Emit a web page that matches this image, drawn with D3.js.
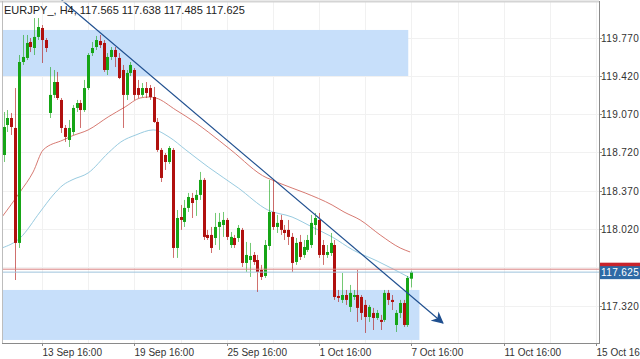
<!DOCTYPE html>
<html><head><meta charset="utf-8">
<script src="https://cdn.jsdelivr.net/npm/d3@7/dist/d3.min.js"></script>
<style>
html,body{margin:0;padding:0;background:#fff;overflow:hidden}
svg{display:block;font-family:"Liberation Sans",Arial,sans-serif}
</style></head><body>
<svg id="chart" width="640" height="359"></svg>
<script>
// ---------- data ----------
const chartTitle = "EURJPY_, H4, 117.565 117.638 117.485 117.625";
const firstBar = -10; // bar index of the first candle (13 Sep 16:00 = 0)
const opens = [118.696,118.970,119.034,118.943,117.892,119.546,119.583,119.729,119.674,119.775,
119.857,119.747,119.080,119.245,119.363,119.199,118.943,118.833,118.906,119.126,
119.171,119.107,119.308,119.628,119.683,119.738,119.720,119.473,119.592,119.656,
119.583,119.473,119.245,119.446,119.473,119.308,119.245,119.308,119.308,119.226,
118.998,118.742,118.696,118.632,118.742,117.846,118.129,118.084,118.212,118.303,
118.285,118.331,118.468,117.965,117.965,117.937,118.038,118.056,118.102,117.873,
117.937,117.937,118.011,117.709,117.736,117.782,117.736,117.645,117.590,117.864,
118.175,118.038,118.102,118.011,118.011,117.947,117.718,117.901,117.782,117.828,
117.873,118.056,118.102,117.873,117.782,117.800,117.873,117.407,117.371,117.416,
117.307,117.398,117.416,117.398,117.325,117.215,117.252,117.206,117.188,117.188,
117.435,117.371,117.142,117.252,117.343,117.142,117.565];
const highs = [119.089,119.107,119.080,119.308,119.610,119.793,119.793,119.765,119.948,119.948,
119.884,119.765,119.500,119.473,119.455,119.217,118.970,119.016,119.153,119.199,
119.199,119.382,119.628,119.729,119.784,119.793,119.747,119.628,119.683,119.683,
119.628,119.519,119.473,119.546,119.491,119.382,119.354,119.363,119.336,119.318,
119.034,118.760,118.714,118.778,118.760,118.193,118.239,118.285,118.349,118.349,
118.376,118.541,118.486,118.011,118.038,118.166,118.166,118.175,118.120,117.992,
117.965,118.056,118.029,117.901,117.892,117.809,117.782,117.691,117.919,118.468,
118.468,118.148,118.148,118.056,118.102,117.983,117.937,117.965,117.919,117.965,
118.148,118.166,118.166,117.919,117.873,117.983,117.919,117.462,117.617,117.462,
117.508,117.462,117.645,117.416,117.371,117.325,117.298,117.279,117.234,117.462,
117.462,117.416,117.279,117.371,117.371,117.590,117.638];
const lows = [118.632,118.906,118.879,117.553,117.846,119.519,119.564,119.637,119.610,119.747,
119.537,119.637,119.034,119.217,119.199,118.897,118.815,118.769,118.879,119.089,
118.943,119.089,119.290,119.601,119.656,119.674,119.455,119.427,119.564,119.500,
119.390,118.943,119.199,119.418,119.199,119.217,119.226,119.217,119.199,118.989,
118.724,118.449,118.559,118.614,117.755,117.755,118.011,118.038,118.175,118.120,
118.139,118.285,117.919,117.919,117.800,117.873,117.828,117.947,117.919,117.846,
117.846,117.901,117.672,117.627,117.581,117.691,117.444,117.553,117.572,117.828,
118.011,117.983,117.965,117.919,117.873,117.627,117.691,117.736,117.755,117.809,
117.846,117.965,117.755,117.691,117.755,117.773,117.371,117.352,117.343,117.325,
117.261,117.371,117.170,117.188,117.069,117.170,117.096,117.188,117.096,117.170,
117.325,117.279,117.078,117.206,117.124,117.124,117.485];
const closes = [118.952,119.034,118.952,117.892,119.546,119.592,119.720,119.683,119.775,119.866,
119.747,119.674,119.245,119.363,119.217,118.943,118.861,118.943,119.126,119.171,
119.107,119.308,119.610,119.674,119.747,119.701,119.473,119.592,119.656,119.592,
119.400,119.245,119.446,119.519,119.245,119.245,119.308,119.263,119.226,118.998,
118.742,118.486,118.632,118.760,117.846,118.120,118.102,118.212,118.312,118.257,
118.331,118.468,117.947,117.937,117.846,118.038,118.084,118.102,117.947,117.947,
117.873,118.029,117.709,117.782,117.773,117.718,117.627,117.581,117.873,118.175,
118.038,118.075,118.011,117.983,117.947,117.709,117.892,117.764,117.855,117.919,
118.075,118.120,117.782,117.782,117.809,117.892,117.398,117.389,117.416,117.371,
117.435,117.416,117.298,117.252,117.215,117.307,117.206,117.252,117.170,117.435,
117.371,117.352,117.252,117.343,117.142,117.572,117.625];

// moving averages (bar index, price)
const maRedIdx = [-10.4,-5.7,-2.3,0.3,5.5,7.8,12.0,17.2,21.6,25.5,27.8,29.6,34.8,40.0,43.2,49.1,58.5,59.8,61.6,68.4,75.4,78.5,82.7,87.9,93.1,95.7];
const maRedVal = [118.129,118.358,118.541,118.742,118.833,118.870,118.925,119.044,119.135,119.217,119.226,119.217,119.107,118.989,118.906,118.742,118.486,118.468,118.440,118.349,118.239,118.175,118.102,117.965,117.846,117.809];
const maBlueIdx = [-10.4,-5.7,-0.5,2.9,5.5,7.8,12.0,17.2,20.5,24.4,28.9,33.0,37.4,43.2,51.0,58.7,65.0,70.2,75.4,80.8,87.1,95.7];
const maBlueVal = [117.846,117.937,118.175,118.330,118.422,118.468,118.532,118.714,118.815,118.879,118.925,118.861,118.742,118.586,118.395,118.193,118.129,118.038,117.947,117.828,117.727,117.572];

// trend line (bar index, price)
const trendIdx = [5.1, 104.2];
const trendVal = [120.113, 117.160];

// zones
const zoneUpper = {idx:[-11, 95.2], price:[119.839, 119.418]};
const zoneLower = {idx:[-11, 98.1], price:[117.462, 117.005]};

// horizontal price lines
const askPrice = 117.652;
const bidPrice = 117.625;

// axes
const yTicks = [119.770, 119.420, 119.070, 118.720, 118.370, 118.020, 117.320];
const yGrid = [119.770, 119.420, 119.070, 118.720, 118.370, 118.020, 117.670, 117.320];
const xTickIdx = [0, 24, 48, 72, 96, 120, 144];
const xTickLabels = ["13 Sep 16:00","19 Sep 16:00","25 Sep 16:00","1 Oct 16:00","7 Oct 16:00","11 Oct 16:00","15 Oct 16:00"];
const xGridIdx = [-12,0,12,24,36,48,60,72,84,96,108,120,132,144];

// ---------- drawing ----------
const plot = {left:2, right:599, top:2, bottom:343};
const svg = d3.select("#chart");
const x = d3.scaleLinear().domain([0,144]).range([42,596]);
const y = d3.scaleLinear().domain([117.320,119.770]).range([305.5,37.5]);

const defs = svg.append("defs");
defs.append("clipPath").attr("id","clip")
  .append("rect").attr("x",plot.left).attr("y",0).attr("width",plot.right-plot.left).attr("height",plot.bottom);
defs.append("marker").attr("id","arrow").attr("viewBox","0 0 10 10").attr("refX",9).attr("refY",5)
  .attr("markerWidth",12).attr("markerHeight",12).attr("markerUnits","userSpaceOnUse").attr("orient","auto")
  .append("path").attr("d","M0,0 L10,5 L0,10 L3,5 Z").attr("fill","#1f4f8f");

// grid
const g = svg.append("g");
g.selectAll(".vg").data(xGridIdx).enter().append("line")
  .attr("x1",d=>Math.round(x(d))+0.5).attr("x2",d=>Math.round(x(d))+0.5)
  .attr("y1",plot.top).attr("y2",plot.bottom).attr("stroke","#f1f1f1");
g.selectAll(".hg").data(yGrid).enter().append("line")
  .attr("x1",plot.left).attr("x2",plot.right)
  .attr("y1",d=>Math.round(y(d))+0.5).attr("y2",d=>Math.round(y(d))+0.5).attr("stroke","#f1f1f1");

const pg = svg.append("g").attr("clip-path","url(#clip)");
// zones
[zoneUpper, zoneLower].forEach(z=>{
  pg.append("rect").attr("x",x(z.idx[0])).attr("width",x(z.idx[1])-x(z.idx[0]))
    .attr("y",y(z.price[0])).attr("height",y(z.price[1])-y(z.price[0])).attr("fill","#c7dffa");
});

// horizontal price lines
svg.append("line").attr("x1",plot.left).attr("x2",640).attr("y1",y(askPrice)).attr("y2",y(askPrice))
  .attr("stroke","#d98080").attr("stroke-width",1);
svg.append("line").attr("x1",plot.left).attr("x2",plot.right).attr("y1",y(bidPrice)).attr("y2",y(bidPrice))
  .attr("stroke","#9fc3dc").attr("stroke-width",1);

// moving averages
const line = d3.line().curve(d3.curveMonotoneX);
pg.append("path").attr("d",line(maRedIdx.map((d,i)=>[x(d),y(maRedVal[i])])))
  .attr("fill","none").attr("stroke","#d77a72").attr("stroke-width",1);
pg.append("path").attr("d",line(maBlueIdx.map((d,i)=>[x(d),y(maBlueVal[i])])))
  .attr("fill","none").attr("stroke","#98cbe0").attr("stroke-width",1);

// candles
const bars = opens.map((o,i)=>({k:firstBar+i,o,h:highs[i],l:lows[i],c:closes[i]}));
const cg = pg.append("g");
const up="#16a516", dn="#b0100e";
bars.forEach(b=>{
  const cx = Math.round(x(b.k));
  const col = b.c>=b.o?up:dn;
  cg.append("line").attr("x1",cx+0.5).attr("x2",cx+0.5).attr("y1",y(b.h)).attr("y2",y(b.l))
    .attr("stroke",col).attr("stroke-opacity",0.6).attr("stroke-width",1);
  const top = y(Math.max(b.o,b.c)), bot = y(Math.min(b.o,b.c));
  cg.append("rect").attr("x",cx-1).attr("width",3).attr("y",top).attr("height",Math.max(1.5,bot-top)).attr("fill",col);
});

// trend line
svg.append("line").attr("x1",x(trendIdx[0])).attr("y1",y(trendVal[0]))
  .attr("x2",x(trendIdx[1])).attr("y2",y(trendVal[1]))
  .attr("stroke","#1f4f8f").attr("stroke-width",1.2).attr("marker-end","url(#arrow)");

// frame
svg.append("line").attr("x1",0).attr("x2",plot.right).attr("y1",1.5).attr("y2",1.5).attr("stroke","#d4d4d4").attr("stroke-width",2);
svg.append("line").attr("x1",plot.left+0.5).attr("x2",plot.left+0.5).attr("y1",1).attr("y2",plot.bottom).attr("stroke","#bdbdbd");
svg.append("line").attr("x1",plot.right+0.5).attr("x2",plot.right+0.5).attr("y1",1).attr("y2",plot.bottom).attr("stroke","#8a8a8a");
svg.append("line").attr("x1",plot.left).attr("x2",plot.right+1).attr("y1",plot.bottom+0.5).attr("y2",plot.bottom+0.5).attr("stroke","#8a8a8a");

// y axis
const ya = svg.append("g").attr("font-size",10).attr("fill","#333").attr("letter-spacing","0.4px");
yTicks.forEach(t=>{
  const yy = Math.round(y(t))+0.5;
  ya.append("line").attr("x1",plot.right).attr("x2",plot.right+3).attr("y1",yy).attr("y2",yy).attr("stroke","#8a8a8a");
  ya.append("text").attr("x",plot.right+2).attr("y",yy).attr("dy","0.35em").text(d3.format(".3f")(t));
});
// price label
svg.append("rect").attr("x",plot.right+1).attr("y",y(askPrice)-6.5).attr("width",40).attr("height",13).attr("fill","#c8232c");
svg.append("rect").attr("x",plot.right+1).attr("y",y(bidPrice)-6).attr("width",40).attr("height",13).attr("fill","#2e6aa6");
svg.append("text").attr("x",plot.right+2).attr("y",y(bidPrice)).attr("dy","0.36em").attr("letter-spacing","0.4px")
  .attr("font-size",10).attr("fill","#fff").text(d3.format(".3f")(bidPrice));

// x axis
const xa = svg.append("g").attr("font-size",10).attr("fill","#333");
xTickIdx.forEach((t,i)=>{
  const xx = Math.round(x(t))+0.5;
  xa.append("line").attr("x1",xx).attr("x2",xx).attr("y1",plot.bottom).attr("y2",plot.bottom+3).attr("stroke","#8a8a8a");
  xa.append("text").attr("x",xx).attr("y",plot.bottom+13).text(xTickLabels[i]);
});

// title
svg.append("text").attr("x",4).attr("y",14).attr("font-size",11).attr("fill","#222").text(chartTitle);
</script>
</body></html>
